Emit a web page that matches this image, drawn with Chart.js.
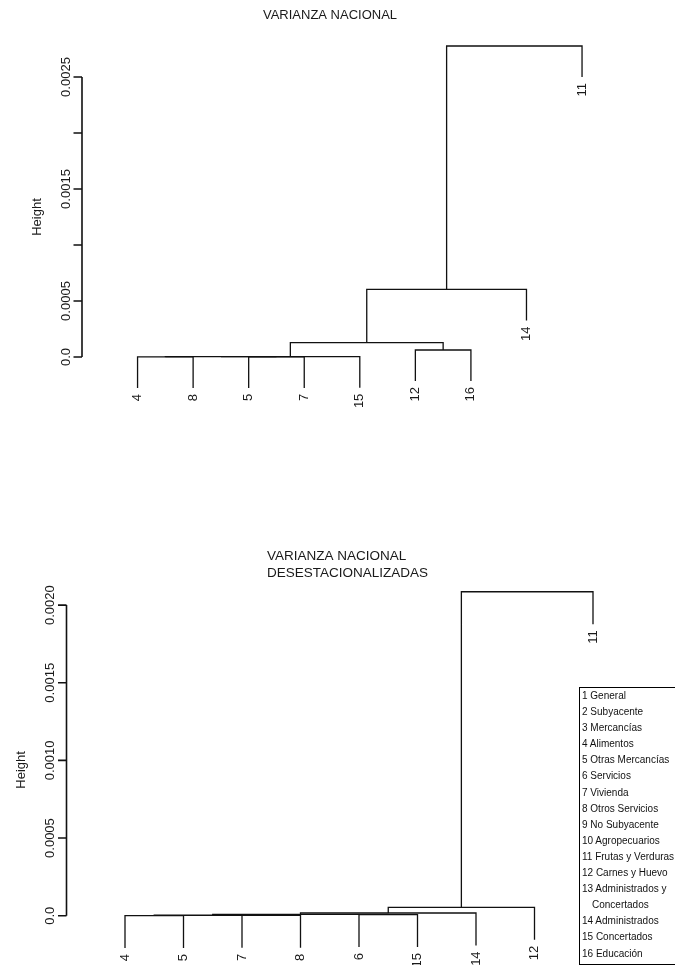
<!DOCTYPE html>
<html>
<head>
<meta charset="utf-8">
<script src="https://cdn.jsdelivr.net/npm/chart.js@4.4.1/dist/chart.umd.min.js"></script>
<style>
    body { margin: 0; background: #fff; overflow: hidden; width: 675px; height: 965px; position: relative; }
    .box { position: absolute; left: 0; }
    #legend { position: absolute; left: 579px; top: 687px; width: 120px; height: 276px; border: 1px solid #000;
              font: 10px 'Liberation Sans', Arial, sans-serif; color: #111; white-space: nowrap; }
    #legend div { height: 16.1px; line-height: 16.1px; padding-left: 2px; }
    #legend div.indent { padding-left: 12px; }
</style>
</head>
<body>
<div class="box" style="top:0px"><canvas id="dendro-top" width="675" height="450"></canvas></div>
<div class="box" style="top:480px"><canvas id="dendro-bottom" width="675" height="485"></canvas></div>
<div id="legend"></div>
<script>
// top: VARIANZA NACIONAL
const leaves1 = ['4', '8', '5', '7', '15', '12', '16', '14', '11'];
const merges1 = [[-1, -2], [-3, -4], [1, 2], [3, -5], [-6, -7], [4, 5], [6, -8], [7, -9]];
const heights1 = [0.000001, 0.000002, 0.000003, 0.000004, 0.0000625, 0.000128, 0.000604, 0.002777];
const ticks1 = [0, 0.0005, 0.001, 0.0015, 0.002, 0.0025];
const tickLabels1 = ['0.0', '0.0005', '', '0.0015', '', '0.0025'];

// bottom: VARIANZA NACIONAL DESESTACIONALIZADAS
const leaves2 = ['4', '5', '7', '8', '6', '15', '14', '12', '11'];
const merges2 = [[-1, -2], [-3, -4], [1, 2], [-5, -6], [3, 4], [5, -7], [6, -8], [7, -9]];
const heights2 = [0.000001, 0.000002, 0.000003, 0.000007, 0.000008, 0.0000174, 0.000054, 0.002086];
const ticks2 = [0, 0.0005, 0.001, 0.0015, 0.002];
const tickLabels2 = ['0.0', '0.0005', '0.0010', '0.0015', '0.0020'];

const legendItems = ['1 General', '2 Subyacente', '3 Mercancías', '4 Alimentos', '5 Otras Mercancías',
    '6 Servicios', '7 Vivienda', '8 Otros Servicios', '9 No Subyacente', '10 Agropecuarios',
    '11 Frutas y Verduras', '12 Carnes y Huevo', '13 Administrados y', 'Concertados',
    '14 Administrados', '15 Concertados', '16 Educación'];

const FONT = "'Liberation Sans', Arial, sans-serif";

// turn an hclust-style merge table into line segments (hang = 0.1)
function buildDendro(leaves, merges, heights) {
    const hang = 0.1 * Math.max(...heights);
    const nodeX = [], leafEnd = [];
    const sets = [];
    for (let i = 0; i < merges.length; i++) {
        const h = heights[i];
        const pts = [];
        merges[i].forEach(function (c, k) {
            let x, y0;
            if (c < 0) {
                x = -c;
                y0 = h - hang;
                leafEnd[-c - 1] = y0;
            } else {
                x = nodeX[c - 1];
                y0 = heights[c - 1];
            }
            if (k == 0) { pts.push({x: x, y: y0}, {x: x, y: h}); }
            else { pts.push({x: x, y: h}, {x: x, y: y0}); }
        });
        nodeX[i] = (pts[0].x + pts[3].x) / 2;
        sets.push({
            data: pts,
            showLine: true,
            borderColor: '#111',
            borderWidth: 1.3,
            pointRadius: 0,
            tension: 0,
            clip: false
        });
    }
    return {sets: sets, leafEnd: leafEnd, hang: hang};
}

function rText(ctx, txt, x, y, align) {
    ctx.save();
    ctx.translate(x, y);
    ctx.rotate(-Math.PI / 2);
    ctx.textAlign = align;
    ctx.textBaseline = 'middle';
    ctx.fillText(txt, 0, 0);
    ctx.restore();
}

function makeChart(id, leaves, merges, heights, ticks, tickLabels, yMin, yMax, padding, titleFn) {
    const d = buildDendro(leaves, merges, heights);
    return new Chart(document.getElementById(id), {
        type: 'scatter',
        data: { datasets: d.sets },
        options: {
            responsive: false,
            animation: false,
            layout: { padding: padding },
            scales: {
                x: { type: 'linear', min: 0, max: 10, display: false },
                y: { type: 'linear', min: yMin, max: yMax, display: false }
            },
            plugins: { legend: { display: false }, tooltip: { enabled: false } }
        },
        plugins: [{
            afterDraw: function (chart) {
                const ctx = chart.ctx;
                const xs = chart.scales.x, ys = chart.scales.y;
                const ax = chart.chartArea.left;
                ctx.save();
                ctx.strokeStyle = '#111';
                ctx.fillStyle = '#1a1a1a';
                ctx.lineWidth = 1.6;
                ctx.beginPath();
                ctx.moveTo(ax, ys.getPixelForValue(ticks[0]));
                ctx.lineTo(ax, ys.getPixelForValue(ticks[ticks.length - 1]));
                ticks.forEach(function (t) {
                    let py = ys.getPixelForValue(t);
                    ctx.moveTo(ax - 8.5, py);
                    ctx.lineTo(ax, py);
                });
                ctx.stroke();
                ctx.font = '13px ' + FONT;
                ticks.forEach(function (t, i) {
                    if (tickLabels[i]) rText(ctx, tickLabels[i], ax - 16, ys.getPixelForValue(t), 'center');
                });
                const mid = (Math.max(...heights) - d.hang) / 2;
                rText(ctx, 'Height', ax - 45, ys.getPixelForValue(mid), 'center');
                leaves.forEach(function (lab, i) {
                    rText(ctx, lab, xs.getPixelForValue(i + 1), ys.getPixelForValue(d.leafEnd[i]) + 6, 'right');
                });
                titleFn(ctx);
                ctx.restore();
            }
        }]
    });
}

makeChart('dendro-top', leaves1, merges1, heights1, ticks1, tickLabels1, -0.0004, 0.0029,
    {left: 82, right: 37.4, top: 32.2, bottom: 48.2},
    function (ctx) {
        ctx.font = '13px ' + FONT;
        ctx.textAlign = 'center';
        ctx.textBaseline = 'middle';
        ctx.fillText('VARIANZA NACIONAL', 330, 15);
    });

makeChart('dendro-bottom', leaves2, merges2, heights2, ticks2, tickLabels2, -0.0003, 0.0022,
    {left: 66.5, right: 23.5, top: 94.05, bottom: 2.7},
    function (ctx) {
        ctx.font = '13.5px ' + FONT;
        ctx.textAlign = 'left';
        ctx.textBaseline = 'middle';
        ctx.fillText('VARIANZA NACIONAL', 267, 76);
        ctx.fillText('DESESTACIONALIZADAS', 267, 93.5);
    });

const legend = document.getElementById('legend');
legendItems.forEach(function (t) {
    const row = document.createElement('div');
    row.textContent = t;
    if (t == 'Concertados') row.className = 'indent';
    legend.appendChild(row);
});
</script>
</body>
</html>
